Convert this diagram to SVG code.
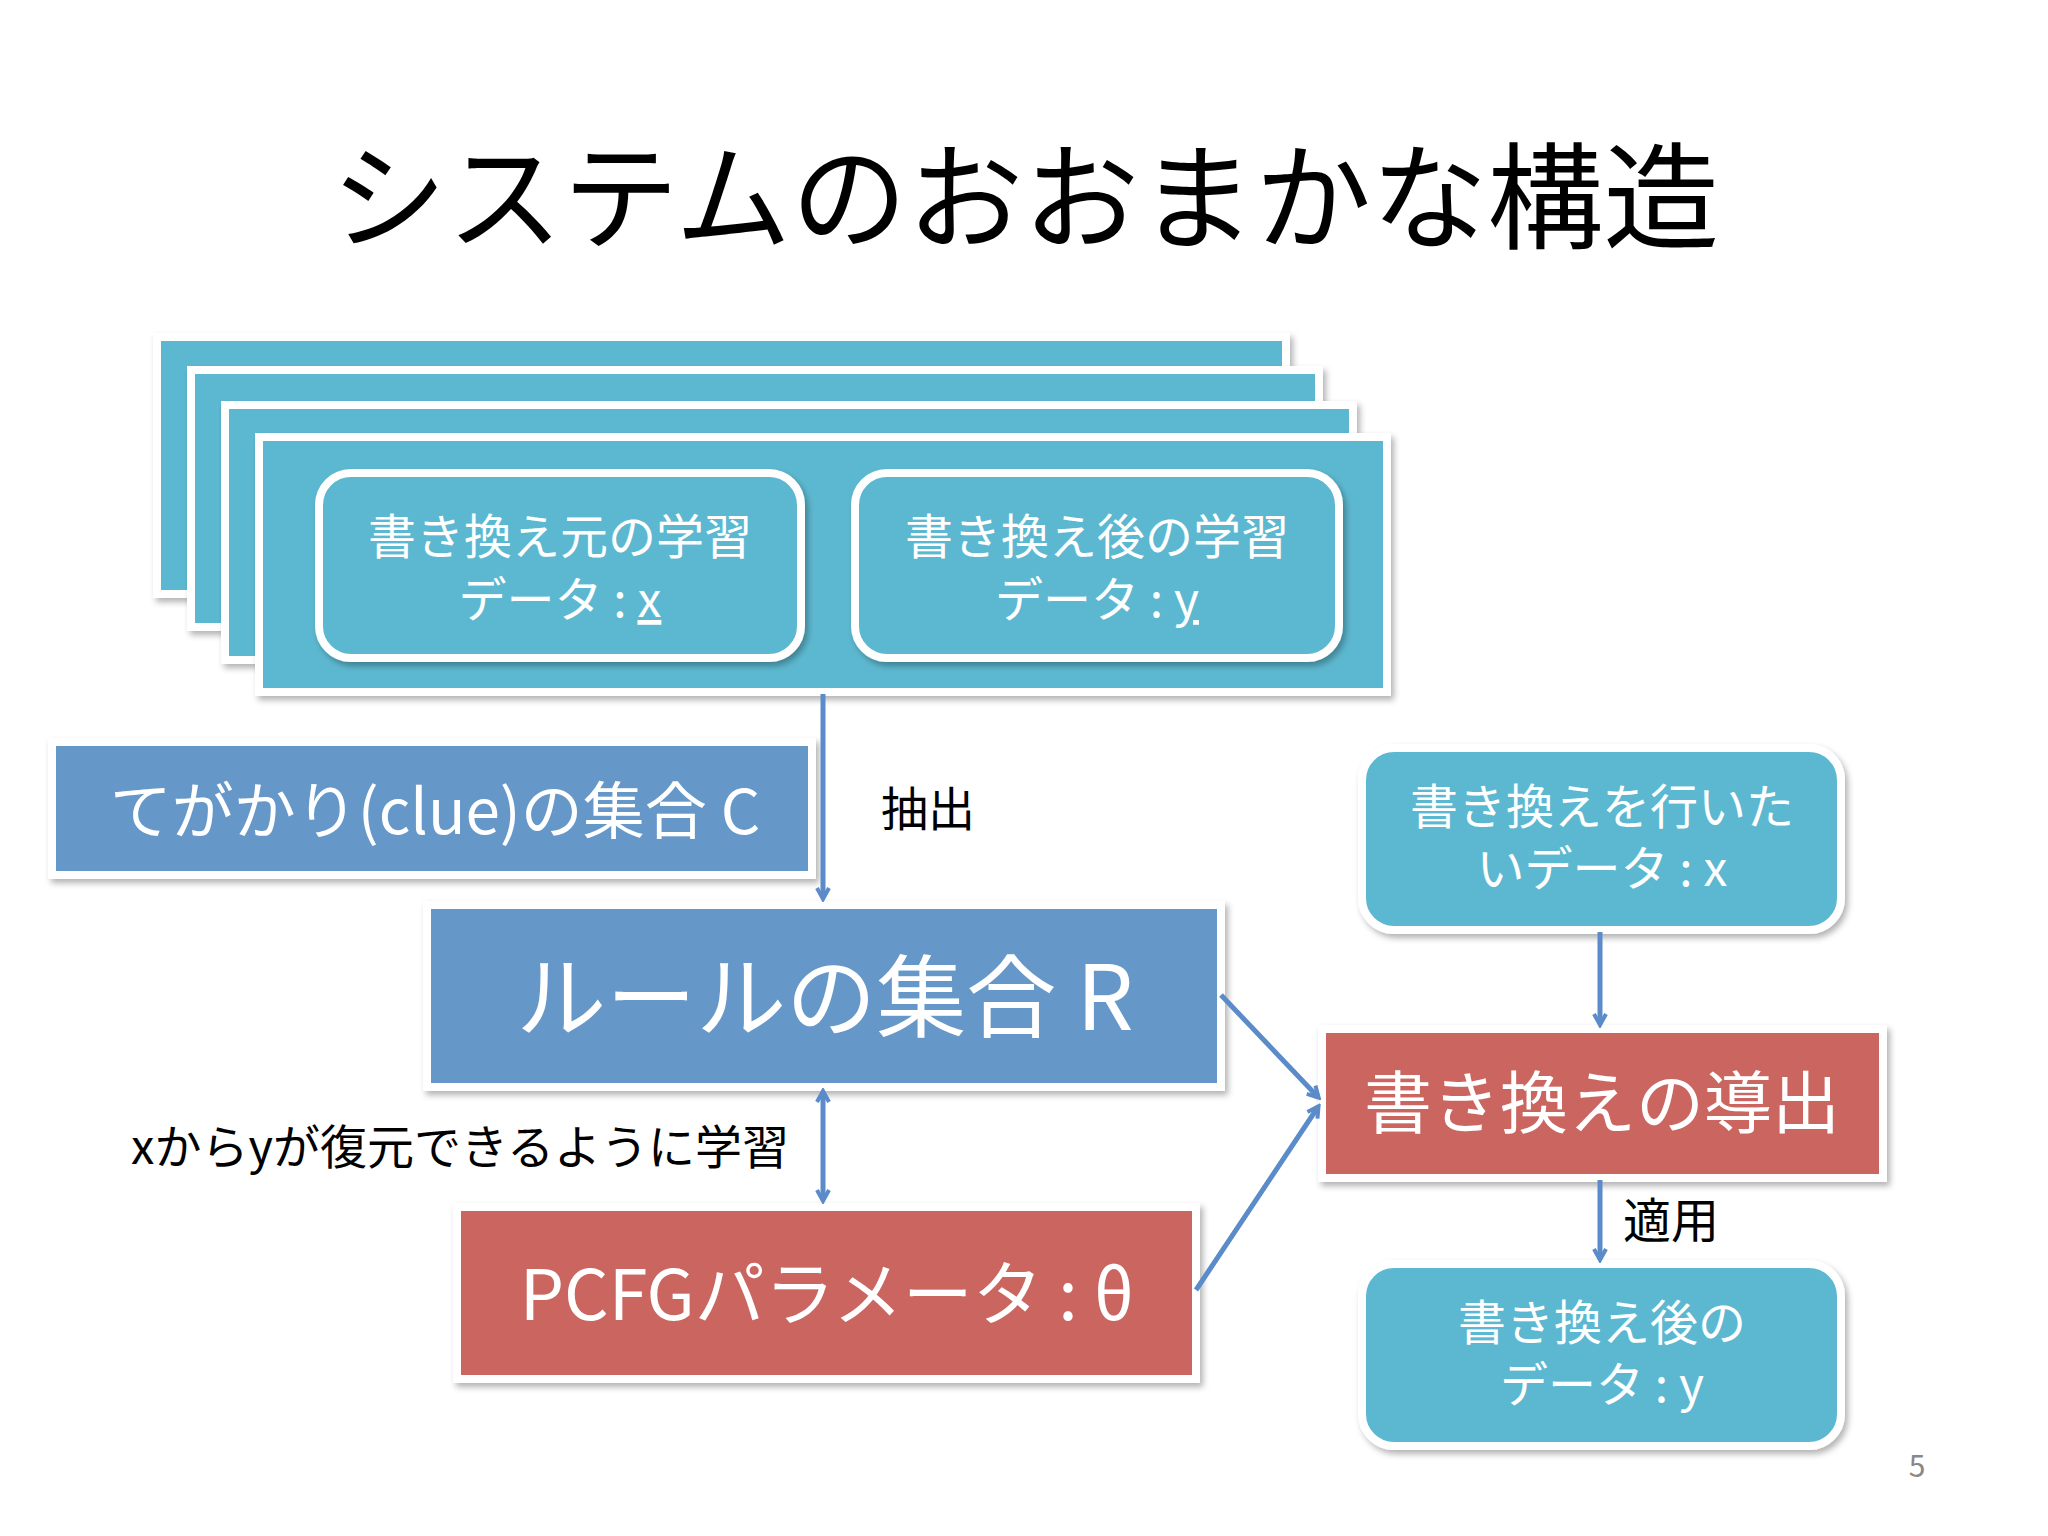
<svg xmlns="http://www.w3.org/2000/svg" width="2048" height="1536" viewBox="0 0 2048 1536">
<defs>
<style>
text{font-family:"Noto Sans CJK JP","Liberation Sans",sans-serif;}
.w{fill:#fff;text-anchor:middle;}
.k{fill:#000;}
.teal{fill:#5bb8d0;stroke:#fff;stroke-width:8;}
.blue{fill:#6598c9;stroke:#fff;stroke-width:8;}
.red{fill:#cb6560;stroke:#fff;stroke-width:8;}
.c{stroke:#5b8bc9;stroke-width:5;fill:none;}
</style>
<filter id="sh" x="-5%" y="-5%" width="115%" height="120%"><feDropShadow dx="3" dy="4" stdDeviation="3" flood-color="#000" flood-opacity="0.3"/></filter>
<marker id="ah" markerWidth="16" markerHeight="16" refX="12" refY="8" orient="auto" markerUnits="userSpaceOnUse" viewBox="0 0 16 16"><path d="M2,2 L13,8 L2,14" fill="none" stroke="#5b8bc9" stroke-width="4"/></marker>
<marker id="as" markerWidth="16" markerHeight="16" refX="4" refY="8" orient="auto" markerUnits="userSpaceOnUse" viewBox="0 0 16 16"><path d="M14,2 L3,8 L14,14" fill="none" stroke="#5b8bc9" stroke-width="4"/></marker>
</defs>
<rect width="2048" height="1536" fill="#fff"/>
<text x="1025" y="240" font-size="116" text-anchor="middle" fill="#000">システムのおおまかな構造</text>
<g id="stack">
<rect class="teal" filter="url(#sh)" x="157" y="337" width="1129" height="257"/>
<rect class="teal" filter="url(#sh)" x="191" y="370" width="1128" height="257"/>
<rect class="teal" filter="url(#sh)" x="225" y="405" width="1128" height="255"/>
<rect class="teal" filter="url(#sh)" x="259" y="437" width="1128" height="255"/>
</g>
<g id="src">
<rect class="teal" filter="url(#sh)" x="319" y="473" width="482" height="185" rx="32"/>
<text class="w" x="560" y="554" font-size="48">書き換え元の学習</text>
<text class="w" x="560" y="617" font-size="48">データ : <tspan text-decoration="underline">x</tspan></text>
</g>
<g id="dst">
<rect class="teal" filter="url(#sh)" x="855" y="473" width="484" height="185" rx="32"/>
<text class="w" x="1097" y="554" font-size="48">書き換え後の学習</text>
<text class="w" x="1097" y="617" font-size="48">データ : <tspan text-decoration="underline">y</tspan></text>
</g>
<g id="clue">
<rect class="blue" filter="url(#sh)" x="52" y="742" width="760" height="133"/>
<text class="w" x="435" y="834" font-size="62">てがかり(clue)の集合 C</text>
</g>
<g id="rules">
<rect class="blue" filter="url(#sh)" x="427" y="905" width="794" height="182"/>
<text class="w" x="825" y="1030" font-size="90">ルールの集合 R</text>
</g>
<g id="pcfg">
<rect class="red" filter="url(#sh)" x="457" y="1207" width="739" height="172"/>
<text class="w" x="827" y="1320" font-size="70">PCFGパラメータ : θ</text>
</g>
<g id="inx">
<rect class="teal" filter="url(#sh)" x="1362" y="748" width="479" height="182" rx="32"/>
<text class="w" x="1602" y="824" font-size="48">書き換えを行いた</text>
<text class="w" x="1602" y="886" font-size="48">いデータ : x</text>
</g>
<g id="derive">
<rect class="red" filter="url(#sh)" x="1322" y="1029" width="561" height="149"/>
<text class="w" x="1602" y="1128" font-size="68">書き換えの導出</text>
</g>
<g id="outy">
<rect class="teal" filter="url(#sh)" x="1362" y="1264" width="479" height="182" rx="32"/>
<text class="w" x="1602" y="1340" font-size="48">書き換え後の</text>
<text class="w" x="1602" y="1402" font-size="48">データ : y</text>
</g>
<g id="connectors">
<line class="c" x1="823" y1="694" x2="823" y2="898" marker-end="url(#ah)"/>
<line class="c" x1="823" y1="1092" x2="823" y2="1200" marker-start="url(#as)" marker-end="url(#ah)"/>
<line class="c" x1="1221" y1="995" x2="1318" y2="1097" marker-end="url(#ah)"/>
<line class="c" x1="1196" y1="1290" x2="1318" y2="1107" marker-end="url(#ah)"/>
<line class="c" x1="1600" y1="932" x2="1600" y2="1024" marker-end="url(#ah)"/>
<line class="c" x1="1600" y1="1180" x2="1600" y2="1259" marker-end="url(#ah)"/>
</g>
<text class="k" x="881" y="826" font-size="47">抽出</text>
<text class="k" x="131" y="1164" font-size="47">xからyが復元できるように学習</text>
<text class="k" x="1623" y="1238" font-size="48">適用</text>
<text x="1917" y="1477" font-size="30" fill="#888" text-anchor="middle">5</text>
</svg>
